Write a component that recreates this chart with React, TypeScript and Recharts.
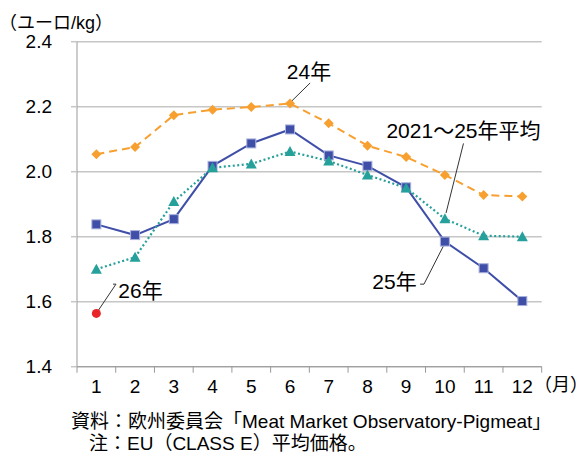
import React from 'react';
import { LineChart, Line, XAxis, YAxis, CartesianGrid, ReferenceLine, ReferenceDot } from 'recharts';

const FONT = "'Liberation Sans', 'Noto Sans CJK JP', sans-serif";

const months = [1, 2, 3, 4, 5, 6, 7, 8, 9, 10, 11, 12];
const monthLabels = ['1', '2', '3', '4', '5', '6', '7', '8', '9', '10', '11', '12'];
const yTicks = [1.4, 1.6, 1.8, 2.0, 2.2, 2.4];

const price2024 = [2.054, 2.076, 2.174, 2.191, 2.199, 2.21, 2.149, 2.08, 2.045, 1.99, 1.928, 1.924];
const price2025 = [1.838, 1.805, 1.854, 2.018, 2.087, 2.13, 2.05, 2.018, 1.952, 1.785, 1.703, 1.602];
const priceAvg = [1.7, 1.737, 1.908, 2.012, 2.024, 2.062, 2.033, 1.99, 1.95, 1.855, 1.803, 1.8];
const price2026 = [1.564];

const labelTexts = ['24年', '2021～25年平均', '25年', '26年'];
const labelPos = [
  { x: 6.49, y: 2.307 },
  { x: 10.48, y: 2.128 },
  { x: 8.7, y: 1.661 },
  { x: 2.14, y: 1.633 },
];
const leaders = [
  [{ x: 6.52, y: 2.273 }, { x: 6.05, y: 2.218 }],
  [{ x: 10.48, y: 2.087 }, { x: 10.03, y: 1.873 }],
  [{ x: 9.36, y: 1.654 }, { x: 9.46, y: 1.654 }],
  [{ x: 9.46, y: 1.654 }, { x: 9.99, y: 1.778 }],
  [{ x: 1.43, y: 1.654 }, { x: 1.507, y: 1.654 }],
  [{ x: 1.507, y: 1.654 }, { x: 1.055, y: 1.574 }],
];

const data = months.map((m, i) => ({
  m,
  y24: price2024[i],
  y25: price2025[i],
  avg: priceAvg[i],
  y26: price2026[i] ?? null,
}));

const xTicks = months.flatMap((m) => [m - 0.5, m]).concat([12.5]);

const XTick = (props: any) => {
  const { x, y, payload } = props;
  const v = payload.value;
  if (Number.isInteger(v)) {
    return (
      <text x={x} y={y + 19.5} textAnchor="middle" dominantBaseline="central" fontSize={19} fontFamily={FONT} fill="#000">
        {monthLabels[months.indexOf(v)]}
      </text>
    );
  }
  return <line x1={x} x2={x} y1={y} y2={y + 6} stroke="#999" strokeWidth={1} />;
};

const Square = (props: any) => {
  const { cx, cy } = props;
  if (cx == null || cy == null) return <g />;
  return <rect x={cx - 4.5} y={cy - 4.5} width={9} height={9} fill="#3F4FA8" stroke="#A9B1DD" strokeWidth={1} />;
};
const Diamond = (props: any) => {
  const { cx, cy } = props;
  if (cx == null || cy == null) return <g />;
  const s = 5;
  return <polygon points={`${cx},${cy - s} ${cx + s},${cy} ${cx},${cy + s} ${cx - s},${cy}`} fill="#F7A030" />;
};
const Triangle = (props: any) => {
  const { cx, cy } = props;
  if (cx == null || cy == null) return <g />;
  return <polygon points={`${cx},${cy - 5.5} ${cx + 5.5},${cy + 4.5} ${cx - 5.5},${cy + 4.5}`} fill="#26A09A" />;
};
const Circle = (props: any) => {
  const { cx, cy } = props;
  if (cx == null || cy == null) return <g />;
  return <circle cx={cx} cy={cy} r={4.5} fill="#E8262A" />;
};

const textStyle: React.CSSProperties = {
  position: 'absolute',
  fontFamily: FONT,
  whiteSpace: 'nowrap',
  color: '#000',
};
const half: React.CSSProperties = { fontFeatureSettings: "'halt'" };

export default function App() {
  return (
    <div style={{ position: 'relative', width: 580, height: 455, background: '#fff', overflow: 'hidden' }}>
      <style>{'body{margin:0}'}</style>
      <div style={{ position: 'absolute', left: 8, top: 8 }}>
        <LineChart width={572} height={439} data={data} margin={{ top: 33.7, right: 38.3, bottom: 50.3, left: 0 }}>
          <CartesianGrid vertical={false} stroke="#C6C6C6" strokeWidth={1.5} />
          <XAxis
            dataKey="m"
            type="number"
            domain={[0.5, 12.5]}
            ticks={xTicks}
            interval={0}
            tickLine={false}
            tickSize={0}
            tickMargin={0}
            axisLine={{ stroke: '#999', strokeWidth: 1 }}
            height={30}
            tick={<XTick />}
          />
          <YAxis
            type="number"
            domain={[1.4, 2.4]}
            ticks={yTicks}
            width={69}
            tickSize={6}
            tickMargin={19}
            tickLine={{ stroke: '#C6C6C6', strokeWidth: 1.5 }}
            axisLine={{ stroke: '#999', strokeWidth: 1 }}
            tickFormatter={(v: number) => v.toFixed(1)}
            tick={{ fill: '#000', fontSize: 19, fontFamily: FONT }}
          />
          {leaders.map((seg, i) => (
            <ReferenceLine key={'l' + i} segment={seg} stroke="#333" strokeWidth={1} ifOverflow="visible" />
          ))}
          <Line dataKey="y25" type="linear" stroke="#3F4FA8" strokeWidth={2} dot={(p: any) => <Square key={'s' + p.index} {...p} />} activeDot={false} isAnimationActive={false} />
          <Line dataKey="avg" type="linear" stroke="#26A09A" strokeWidth={2.2} strokeDasharray="2 2.5" dot={(p: any) => <Triangle key={'t' + p.index} {...p} />} activeDot={false} isAnimationActive={false} />
          <Line dataKey="y24" type="linear" stroke="#F7A030" strokeWidth={2} strokeDasharray="8 5" dot={(p: any) => <Diamond key={'d' + p.index} {...p} />} activeDot={false} isAnimationActive={false} />
          <Line dataKey="y26" type="linear" stroke="#E8262A" strokeWidth={2} dot={(p: any) => <Circle key={'c' + p.index} {...p} />} activeDot={false} isAnimationActive={false} connectNulls={false} />
          {labelPos.map((p, i) => (
            <ReferenceDot
              key={'t' + i}
              x={p.x}
              y={p.y}
              r={0}
              ifOverflow="visible"
              shape={(sp: any) => (
                <text x={sp.cx} y={sp.cy} textAnchor="middle" dominantBaseline="central" fontSize={21} fontFamily={FONT} fill="#000">
                  {labelTexts[i]}
                </text>
              )}
            />
          ))}
        </LineChart>
      </div>
      <div style={{ ...textStyle, left: 8, top: 17, fontSize: 18, lineHeight: '12px' }}>
        <span style={half}>（</span>ユーロ/kg<span style={half}>）</span>
      </div>
      <div style={{ ...textStyle, left: 543, top: 378, fontSize: 18, lineHeight: '14px' }}>
        <span style={half}>（</span>月<span style={half}>）</span>
      </div>
      <div style={{ ...textStyle, left: 71, top: 415, fontSize: 19, lineHeight: '14px' }}>資料：欧州委員会「Meat Market Observatory-Pigmeat」</div>
      <div style={{ ...textStyle, left: 89, top: 437, fontSize: 19, lineHeight: '14px' }}>注：EU（CLASS E）平均価格。</div>
    </div>
  );
}
